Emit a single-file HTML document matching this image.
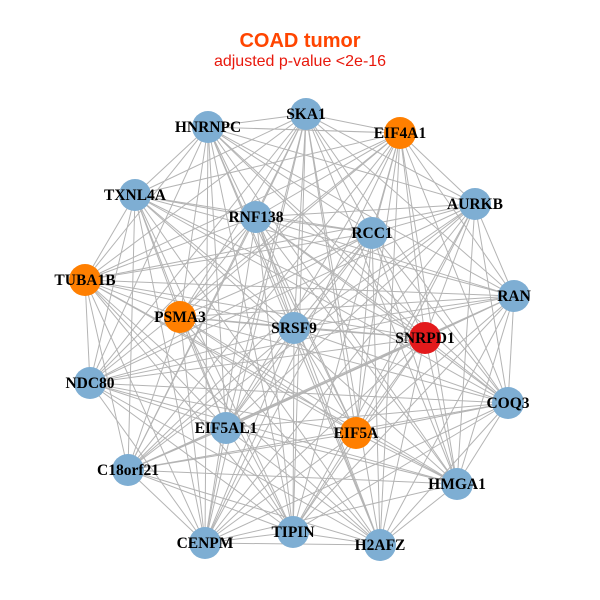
<!DOCTYPE html>
<html><head><meta charset="utf-8"><style>
html,body{margin:0;padding:0;background:#fff;width:600px;height:600px;overflow:hidden}
svg{display:block}
</style></head><body>
<svg id="s" width="600" height="600" xmlns="http://www.w3.org/2000/svg">
<rect width="600" height="600" fill="#fff"/>
<text x="300" y="47" text-anchor="middle" font-family="Liberation Sans, sans-serif" font-weight="bold" font-size="20" fill="#ff4500">COAD tumor</text>
<text x="300" y="66" text-anchor="middle" font-family="Liberation Sans, sans-serif" font-size="16" fill="#e8180c">adjusted p-value &lt;2e-16</text>
<g id="e" stroke="#b4b4b4" stroke-width="1"></g>
<g id="n"></g>
</svg>
<script>
var N=[["SKA1",306,114,0],["HNRNPC",208,127,0],["EIF4A1",400,133,1],["TXNL4A",135,195,0],["AURKB",475,204,0],["RNF138",256,217,0],["RCC1",372,233,0],["TUBA1B",85,280,1],["RAN",514,296,0],["PSMA3",180,317,1],["SRSF9",294,328,0],["SNRPD1",425,338,2],["NDC80",90,383,0],["COQ3",508,403,0],["EIF5AL1",226,428,0],["EIF5A",356,433,1],["C18orf21",128,470,0],["HMGA1",457,484,0],["CENPM",205,543,0],["TIPIN",293,532,0],["H2AFZ",380,545,0]];
var col=["#7eaed3","#ff7f00","#e31a1c"];
var ns="http://www.w3.org/2000/svg",E=document.getElementById("e"),G=document.getElementById("n");
for(var i=0;i<N.length;i++)for(var j=i+1;j<N.length;j++){
 if((i*7+j*3)%11==0)continue;
 var l=document.createElementNS(ns,"line");
 l.setAttribute("x1",N[i][1]);l.setAttribute("y1",N[i][2]);l.setAttribute("x2",N[j][1]);l.setAttribute("y2",N[j][2]);E.appendChild(l);}
N.forEach(function(d){var c=document.createElementNS(ns,"circle");c.setAttribute("cx",d[1]);c.setAttribute("cy",d[2]);c.setAttribute("r",16);c.setAttribute("fill",col[d[3]]);G.appendChild(c);});
N.forEach(function(d){var t=document.createElementNS(ns,"text");t.setAttribute("x",d[1]);t.setAttribute("y",d[2]+5);t.setAttribute("text-anchor","middle");t.setAttribute("font-family","Liberation Serif, serif");t.setAttribute("font-weight","bold");t.setAttribute("font-size","15.5");t.textContent=d[0];G.appendChild(t);});
</script>
</body></html>
